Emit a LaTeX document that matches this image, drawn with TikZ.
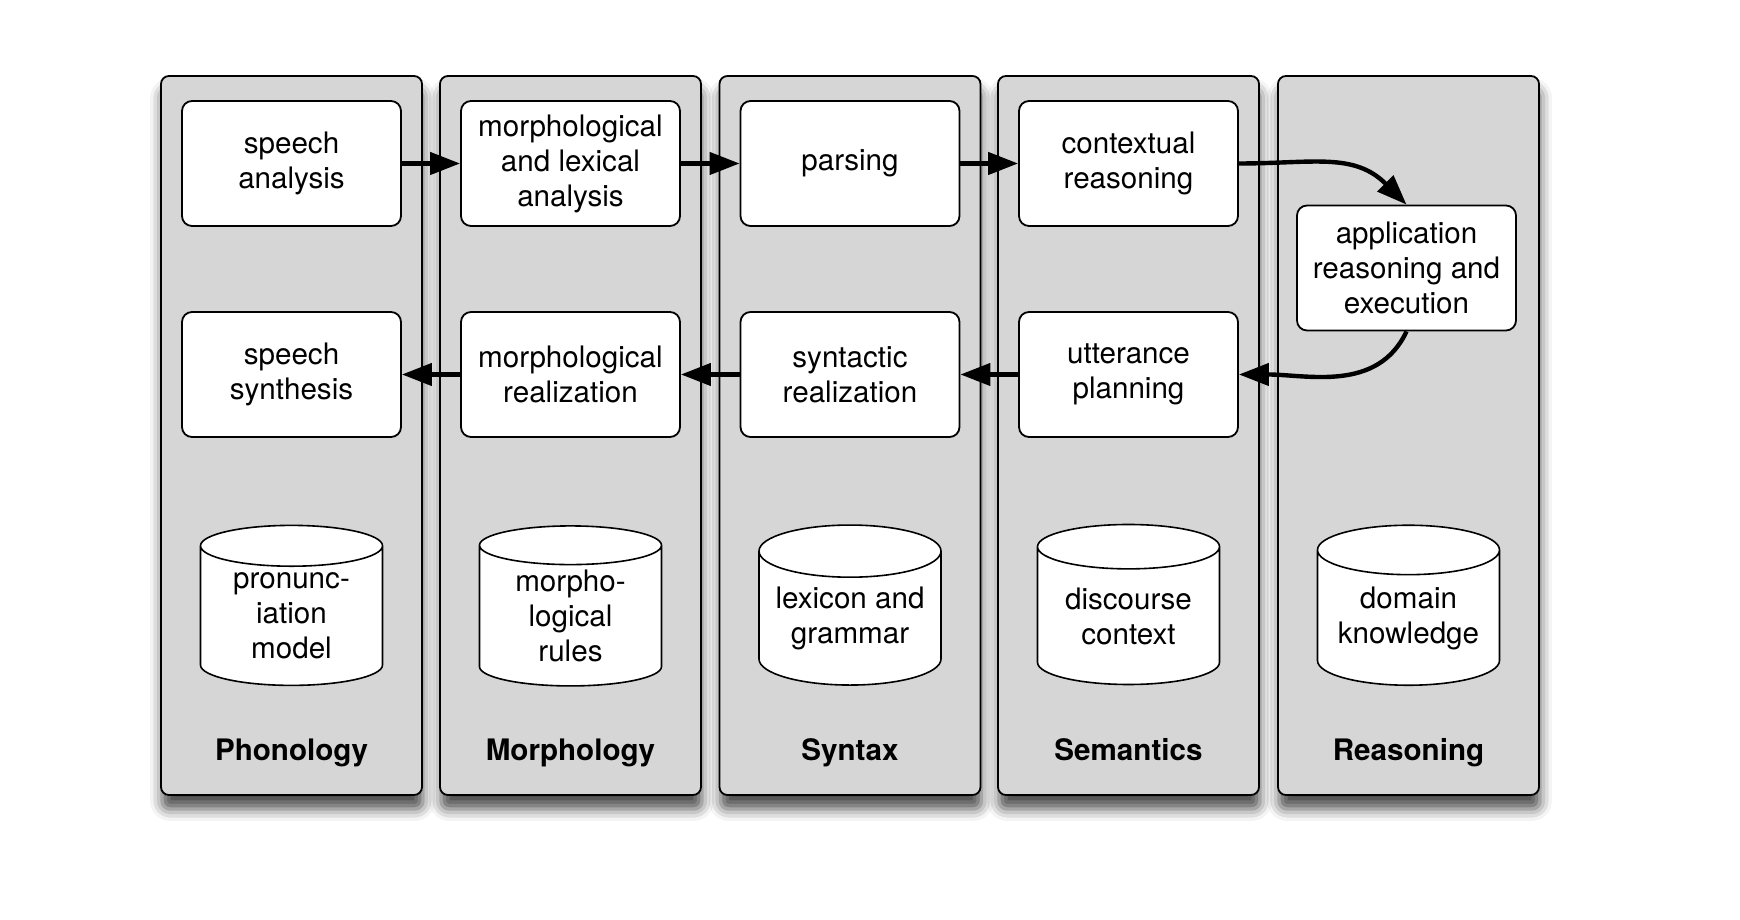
\documentclass[tikz,border=0pt]{standalone}
\usepackage{fontspec}
\setsansfont{TeX Gyre Heros}
\usetikzlibrary{arrows.meta,shapes.geometric,shadows.blur}
\definecolor{laneGray}{RGB}{214,214,214}

\begin{document}
\begin{tikzpicture}[
  x=0.5pt, y=0.5pt,
  every node/.style={font=\sffamily\fontsize{14.8}{17.5}\selectfont, align=center},
  lane/.style={
    draw, line width=0.9pt, rounded corners=4pt, fill=laneGray,
    minimum width=130.5pt, minimum height=359.5pt,
    blur shadow={shadow xshift=0.5pt, shadow yshift=-7pt,
      shadow blur radius=6pt, shadow opacity=70}
  },
  task/.style={draw, line width=0.9pt, rounded corners=5pt, fill=white,
    minimum width=109.5pt, minimum height=62.5pt, inner sep=2pt},
  store/.style={draw, line width=0.8pt, fill=white, cylinder,
    shape border rotate=90, aspect=0.35,
    minimum width=91pt, minimum height=80pt, inner sep=0pt},
  level/.style={font=\sffamily\bfseries\fontsize{14.8}{17.5}\selectfont, anchor=base},
  flow/.style={line width=2.2pt, -{Triangle[length=15pt,width=11pt]}}
]
\useasboundingbox (0,0) rectangle (1740,920);

% lanes
\node[lane] (phon)  at (291.5,484.5) {};
\node[lane] (morph) at (570.5,484.5) {};
\node[lane] (syn)   at (850,484.5)   {};
\node[lane] (sem)   at (1128.5,484.5) {};
\node[lane] (reas)  at (1408.5,484.5) {};

% understanding
\node[task] (speechAna) at (291.5,756.5)  {speech\\analysis};
\node[task] (morphAna)  at (570.5,756.5)  {morphological\\and lexical\\analysis};
\node[task] (parse)     at (850,756.5)    {parsing};
\node[task] (ctxReason) at (1128.5,756.5) {contextual\\reasoning};
\node[task] (appReason) at (1406.5,652)   {application\\reasoning and\\execution};

% generation
\node[task] (speechSyn) at (291.5,545.5)  {speech\\synthesis};
\node[task] (morphReal) at (570.5,545.5)  {morphological\\realization};
\node[task] (synReal)   at (850,545.5)    {syntactic\\realization};
\node[task] (uttPlan)   at (1128.5,545.5) {utterance\\planning};

% knowledge
\node[store] (pronModel)  at (291.5,304)  {pronunc-\\iation\\model};
\node[store] (morphRules) at (570.5,304)  {morpho-\\logical\\rules};
\node[store] (lexGram)    at (850,301.5)  {lexicon and\\grammar};
\node[store] (discCtx)    at (1128.5,304) {discourse\\context};
\node[store] (domKnow)    at (1408.5,302) {domain\\knowledge};

\node[level] (phonLbl)  at (291.5,159)  {Phonology};
\node[level] (morphLbl) at (570.5,159)  {Morphology};
\node[level] (synLbl)   at (850,159)    {Syntax};
\node[level] (semLbl)   at (1128.5,159) {Semantics};
\node[level] (reasLbl)  at (1408.5,159) {Reasoning};

\draw[flow] (speechAna.east) -- (morphAna.west);
\draw[flow] (morphAna.east) -- (parse.west);
\draw[flow] (parse.east) -- (ctxReason.west);
\draw[flow] (ctxReason.east) to[out=0, in=135, looseness=1.1] (appReason.north);
\draw[flow] (appReason.south) to[out=-115, in=0] (uttPlan.east);
\draw[flow] (uttPlan.west) -- (synReal.east);
\draw[flow] (synReal.west) -- (morphReal.east);
\draw[flow] (morphReal.west) -- (speechSyn.east);
\end{tikzpicture}
\end{document}
